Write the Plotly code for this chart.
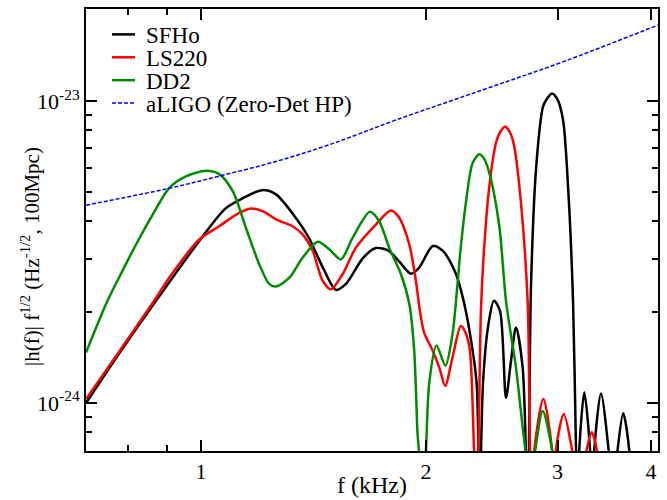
import numpy as np
import plotly.graph_objects as go

# ---- data (frequency in kHz, amplitude in units of 1e-24) ----
sfho_f = [0.702, 0.779, 0.871, 1.006, 1.080, 1.138, 1.207, 1.260, 1.340, 1.395, 1.457, 1.516,
          1.563, 1.647, 1.714, 1.784, 1.840, 1.910, 1.957, 2.043, 2.107, 2.193, 2.241, 2.290,
          2.338, 2.358, 2.384, 2.421, 2.466, 2.512, 2.559, 2.599, 2.639, 2.694, 2.736, 2.764,
          2.807, 2.868, 2.903, 2.949, 2.995, 3.050, 3.098, 3.146, 3.175, 3.190, 3.207, 3.257,
          3.315, 3.337, 3.359, 3.428, 3.510, 3.560, 3.609, 3.672, 3.740, 3.770]
sfho_a = [1.00, 1.47, 2.18, 3.57, 4.42, 4.77, 5.07, 4.91, 4.10, 3.52, 2.80, 2.37,
          2.48, 3.02, 3.26, 3.19, 2.95, 2.68, 2.80, 3.31, 3.19, 2.68, 2.23, 1.70,
          1.16, 0.45, 1.16, 1.78, 2.18, 2.02, 1.04, 1.38, 1.78, 1.31, 0.45, 2.44,
          5.94, 9.58, 10.18, 10.6, 10.18, 8.69, 5.22, 2.18, 0.70, 0.45, 0.70, 1.085,
          0.70, 0.45, 0.70, 1.076, 0.70, 0.45, 0.70, 0.925, 0.70, 0.45]

ls220_f = [0.702, 0.779, 0.866, 0.907, 0.995, 1.058, 1.125, 1.166, 1.209, 1.260, 1.326, 1.368,
           1.411, 1.455, 1.493, 1.547, 1.612, 1.714, 1.795, 1.842, 1.900, 1.939, 1.963, 1.989,
           2.042, 2.084, 2.122, 2.171, 2.227, 2.262, 2.290, 2.319, 2.333, 2.350, 2.369, 2.391,
           2.431, 2.481, 2.516, 2.553, 2.595, 2.625, 2.680, 2.736, 2.756, 2.773, 2.792, 2.871,
           2.949, 2.967, 2.985, 3.057, 3.136, 3.204, 3.281, 3.332, 3.384, 3.420]
ls220_a = [1.03, 1.49, 2.18, 2.60, 3.48, 3.85, 4.26, 4.41, 4.32, 4.06, 3.85, 3.62,
           3.19, 2.54, 2.38, 2.67, 3.27, 3.90, 4.34, 4.11, 3.35, 2.54, 2.02, 1.71,
           1.49, 1.31, 1.14, 1.42, 1.80, 1.70, 1.49, 0.70, 0.45, 0.70, 2.02, 3.19,
           5.22, 7.25, 7.93, 8.23, 7.81, 7.07, 4.60, 2.15, 0.70, 0.45, 0.70, 1.03,
           0.70, 0.45, 0.70, 0.92, 0.70, 0.45, 0.70, 0.80, 0.70, 0.45]

dd2_f = [0.702, 0.750, 0.777, 0.819, 0.862, 0.907, 0.955, 1.016, 1.058, 1.103, 1.149, 1.197,
         1.234, 1.260, 1.313, 1.368, 1.433, 1.485, 1.539, 1.596, 1.683, 1.732, 1.786, 1.852,
         1.900, 1.929, 1.949, 1.957, 1.975, 2.000, 2.020, 2.066, 2.124, 2.171, 2.200, 2.224,
         2.262, 2.309, 2.357, 2.391, 2.431, 2.507, 2.559, 2.639, 2.694, 2.716, 2.739, 2.801,
         2.865, 2.949, 2.976]
dd2_a = [1.47, 2.18, 2.60, 3.35, 4.21, 5.15, 5.63, 5.88, 5.73, 5.03, 3.80, 2.88,
         2.48, 2.43, 2.60, 3.03, 3.42, 3.23, 2.99, 3.53, 4.30, 4.00, 3.27, 2.67,
         2.13, 1.49, 0.79, 0.70, 0.45, 0.70, 1.16, 1.55, 1.33, 1.70, 2.35, 3.19,
         4.61, 6.23, 6.67, 6.46, 5.78, 3.85, 2.18, 1.31, 0.83, 0.70, 0.45, 0.70,
         0.94, 0.70, 0.45]

aligo_f = [0.702, 0.906, 1.057, 1.260, 1.488, 1.829, 2.384, 3.050, 4.087]
aligo_a = [4.52, 5.14, 5.64, 6.31, 7.18, 8.68, 10.9, 13.49, 17.86]

unit = 1e-24
names = ["SFHo", "LS220", "DD2", "aLIGO (Zero-Det HP)"]
colors = ["#000000", "#ff0000", "#008c00", "#0000ff"]

x_ticks = [1, 2, 3, 4]
x_minor = [0.8, 0.9]
y_ticks = [1e-24, 1e-23]
y_ticktext = ["10<sup>-24</sup>", "10<sup>-23</sup>"]
y_minor = [0.8e-24, 0.9e-24] + [k * 1e-24 for k in range(2, 10)]

FONT = "Liberation Serif"

fig = go.Figure()
series = [(sfho_f, sfho_a), (ls220_f, ls220_a), (dd2_f, dd2_a)]
for (f, a), nm, col in zip(series, names[:3], colors[:3]):
    fig.add_trace(go.Scatter(x=f, y=np.array(a) * unit, mode="lines", name=nm,
                             line=dict(color=col, width=2.5, shape="spline", smoothing=0.8),
                             showlegend=False))
fig.add_trace(go.Scatter(x=aligo_f, y=np.array(aligo_a) * unit, mode="lines", name=names[3],
                         line=dict(color=colors[3], width=1.5, dash="4px,2px", shape="spline"),
                         showlegend=False))

axis_common = dict(showline=True, linecolor="black", linewidth=2, mirror="allticks",
                   ticks="inside", tickcolor="black", tickwidth=2, ticklen=11,
                   showgrid=False, zeroline=False,
                   tickfont=dict(family=FONT, size=22, color="black"))

fig.update_xaxes(type="log", range=[np.log10(0.702), np.log10(4.087)],
                 tickvals=x_ticks, ticktext=[str(v) for v in x_ticks],
                 minor=dict(tickvals=x_minor, ticks="inside", ticklen=6, tickwidth=2,
                            tickcolor="black", showgrid=False),
                 **axis_common)
fig.update_yaxes(type="log", range=[-24.159, -22.695],
                 tickvals=y_ticks, ticktext=y_ticktext,
                 minor=dict(tickvals=y_minor, ticks="inside", ticklen=6, tickwidth=2,
                            tickcolor="black", showgrid=False),
                 **axis_common)

W, H = 667, 500
L, R, T, B = 86, 9, 7, 49
pw, ph = W - L - R, H - T - B


def px(xp):
    return (xp - L) / pw


def py(yp):
    return (H - B - yp) / ph


shapes = []
annotations = []
leg_y = [32.5, 55.5, 78.5, 101.5]
for i, (nm, col) in enumerate(zip(names, colors)):
    dash = "4px,2px" if i == 3 else "solid"
    width = 1.5 if i == 3 else 2.5
    shapes.append(dict(type="line", xref="paper", yref="paper",
                       x0=px(112), x1=px(135), y0=py(leg_y[i]), y1=py(leg_y[i]),
                       line=dict(color=col, width=width, dash=dash)))
    annotations.append(dict(text=nm, xref="paper", yref="paper", x=px(144), y=py(leg_y[i] + 1),
                            xanchor="left", yanchor="middle", showarrow=False,
                            font=dict(family=FONT, size=23, color="black")))

annotations.append(dict(text="|h(f)| f<sup>1/2</sup> (Hz<sup>-1/2</sup>, 100Mpc)",
                        xref="paper", yref="paper", x=px(31), y=py(256), textangle=-90,
                        xanchor="center", yanchor="middle", showarrow=False,
                        font=dict(family=FONT, size=21, color="black")))
annotations.append(dict(text="f (kHz)", xref="paper", yref="paper", x=0.5, y=py(485),
                        xanchor="center", yanchor="middle", showarrow=False,
                        font=dict(family=FONT, size=24, color="black")))

fig.update_layout(width=W, height=H, margin=dict(l=L, r=R, t=T, b=B),
                  plot_bgcolor="white", paper_bgcolor="white",
                  font=dict(family=FONT),
                  shapes=shapes, annotations=annotations, showlegend=False)

fig.write_html("out.html", config={"displayModeBar": False},
               post_script="document.body.style.margin='0px';")
